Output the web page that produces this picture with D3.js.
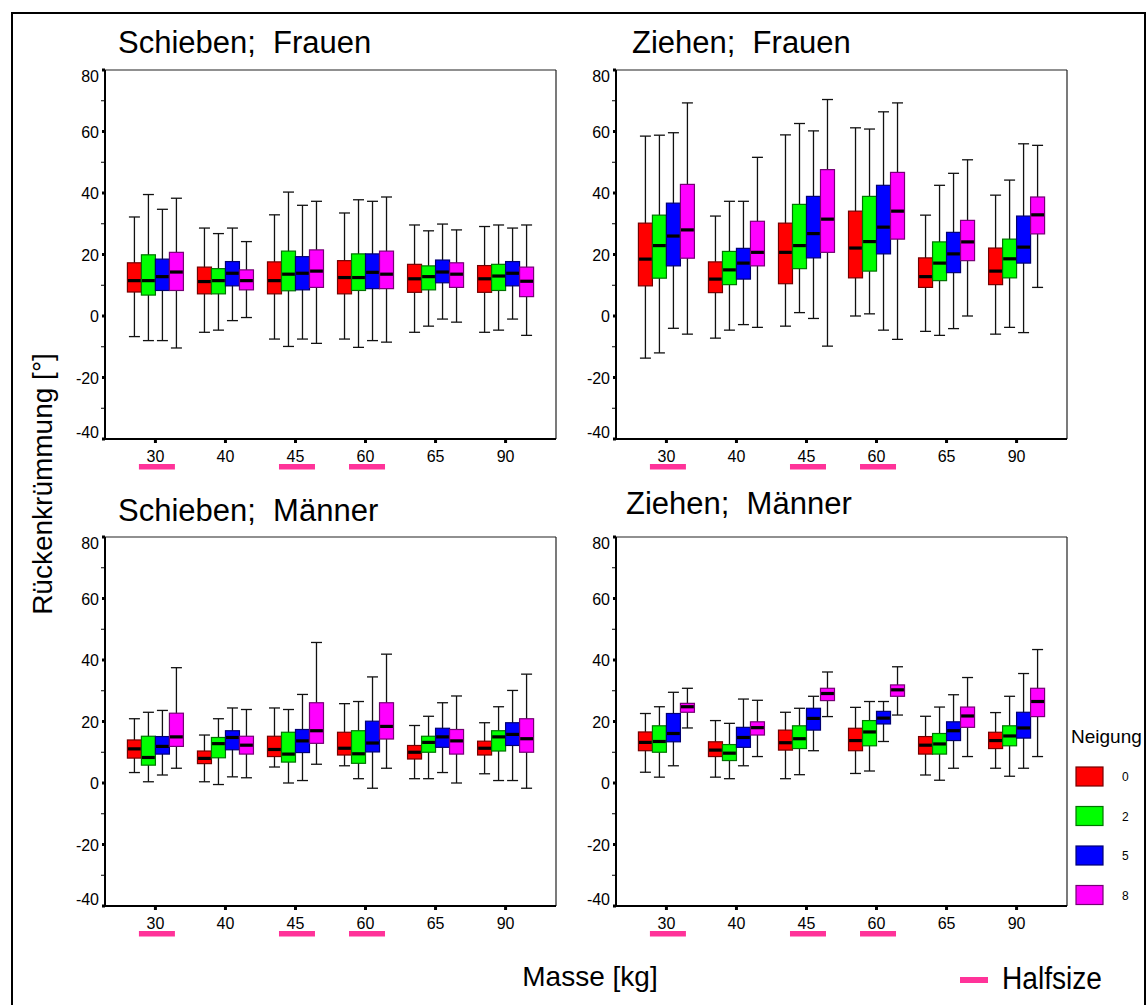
<!DOCTYPE html>
<html><head><meta charset="utf-8">
<script src="https://cdn.jsdelivr.net/npm/d3@7"></script>
<style>body{margin:0;background:#fff} svg{display:block;font-family:"Liberation Sans",Arial,sans-serif}</style>
</head><body>
<script>
const masses = ["30","40","45","60","65","90"];
const halfsize = ["30","45","60"];
const neigung = ["0","2","5","8"];
const colors = ["#ff0000","#00ff00","#0000ff","#ff00ff"];
const yTicks = [80,60,40,20,0,-20,-40];
const yMinor = [70,50,30,10,-10,-30];
// per mass, per Neigung: [min, q1, median, q3, max]
const schiebenFrauen = [
 [[-6.7,7.8,11.5,17.3,32.2],[-8,6.8,11.5,19.9,39.5],[-8,8.3,12.8,18.5,34.7],[-10.4,8.3,14.3,20.7,38.3]],
 [[-5.3,7.2,11.2,15.9,28.6],[-4.6,7.2,11.5,15.4,26.8],[-1.5,9.8,13.9,17.7,28.6],[-0.5,8.5,11.5,15,24.2]],
 [[-7.5,7.2,11.5,17.6,32.9],[-9.9,8.2,13.6,21.1,40.3],[-7.5,8.5,13.9,19.3,36],[-8.9,9.3,14.6,21.5,37.3]],
 [[-7.5,7.2,12.5,18,33.5],[-10.2,8.3,12.5,20.2,37.8],[-8,8.9,14.2,20.2,37.3],[-8.5,8.9,13.6,21.1,38.7]],
 [[-5.3,7.7,12.1,16.8,29.6],[-3.3,8.5,12.8,16.3,27.7],[-1,10.8,14.3,18.2,29.9],[-2,9.3,13.6,17.3,28]],
 [[-5.3,7.7,12.1,16.4,29.1],[-4.6,8.3,13,16.8,29.6],[-1,9.8,13.9,17.7,28.6],[-6.3,6.3,11.3,15.9,29.6]]
];
const ziehenFrauen = [
 [[-13.7,9.8,18.5,30.2,58.5],[-12,12.3,22.9,32.8,58.8],[-4,16.3,26,36.7,59.6],[-5.9,18.8,28,42.8,69.3]],
 [[-7.2,7.6,12,17.6,32.5],[-4.6,10.2,15,21,37.3],[-2.8,12,17.2,22,37.3],[-3.7,16.3,20.7,30.8,51.6]],
 [[-3.3,10.5,20.7,30.2,58.9],[1.1,15.4,22.9,36.3,62.6],[-0.8,18.9,26.8,38.9,60.2],[-9.8,20.7,31.5,47.6,70.4]],
 [[0,12.4,22.1,34.1,61.2],[0.7,14.6,24.2,38.9,60.8],[-4.6,20.2,28.9,42.5,66.4],[-7.6,25,34.1,46.7,69.3]],
 [[-5,9.3,12.8,18.9,32.8],[-6.3,11.5,17.2,24.1,42.5],[-4.1,14.1,20.2,27.2,46.4],[0,18,24.1,31.1,50.8]],
 [[-5.9,10.2,14.6,22.1,39.3],[-3.7,12.4,18.6,25,44.2],[-5.4,17.2,22.4,32.5,56],[9.3,26.7,32.9,38.7,55.5]]
];
const schiebenMaenner = [
 [[3.4,8.1,11.1,14,20.9],[0.4,5.8,8.3,15.2,23],[2.6,9.4,11.9,15.1,23.6],[4.8,11.9,15,22.7,37.5]],
 [[0.4,6.3,8,10.4,15.6],[-0.5,8.2,12.8,14.8,20.9],[2,10.8,14.8,17,24.4],[1.7,9.4,12.3,15.2,23.9]],
 [[5.2,8.6,10.9,15.2,24.4],[0,6.8,9.4,16.5,23.9],[0.8,9.9,13.7,17.4,28.8],[6.1,12.9,17,26.1,45.7]],
 [[5.6,9.1,11.3,16.5,25.8],[1.4,6.4,9.5,17,26.5],[-1.7,10.1,13,20.1,34.5],[4.8,14.3,18.4,26.1,41.9]],
 [[1.4,7.8,10,12.2,18.7],[1.4,10,13.2,15.2,21.7],[3.4,11.6,15,17.8,26.1],[0,9.4,13.7,17.4,28.3]],
 [[3,9.1,11.3,13.6,19.6],[0.8,10.4,15,17,24.8],[0.8,12.2,15.8,19.6,30.1],[-1.7,10,14.4,20.9,35.4]]
];
const ziehenMaenner = [
 [[3.5,10.5,13.2,16.6,22.6],[1.9,10,13.5,18.6,24.8],[5.6,13.4,16.1,22.6,29.5],[17.9,23,24.8,25.9,30.8]],
 [[1.9,8.6,10.7,13.4,20.3],[1.4,7.3,9.7,12.5,19.4],[5.6,11.6,14.8,18.1,27.3],[8.6,15.6,18,19.9,26.9]],
 [[1.4,10.7,13.1,17.2,23],[2.7,11.2,14.4,18.6,24.3],[10.5,17.2,21,24.3,28.2],[21.6,26.8,29.1,30.8,36.1]],
 [[3.1,10.5,13.8,17.8,24.6],[3.9,12.1,16.6,20.3,26.5],[13.5,19.2,21.1,23.3,26.5],[22.1,28.2,30.3,31.9,37.8]],
 [[2.6,9.4,12.3,15.1,21.7],[0.9,9.4,12.7,16.1,24.7],[4.8,13.8,17,19.9,28.7],[8.6,18.1,21.8,24.7,34.3]],
 [[4.8,11.2,13.8,16.5,22.9],[2.2,12.1,15.3,18.6,28.2],[4.8,14.6,17.9,23,35.6],[8.6,21.6,26.5,30.8,43.4]]
];
const titles = ["Schieben;\u00a0 Frauen","Ziehen;\u00a0 Frauen","Schieben;\u00a0 Männer","Ziehen;\u00a0 Männer"];
const yLabel = "Rückenkrümmung [°]";
const xLabel = "Masse [kg]";
const legendTitle = "Neigung";
const halfsizeLabel = "Halfsize";

const W = 1146, H = 1005;
const svg = d3.select("body").append("svg").attr("width", W).attr("height", H);
svg.append("rect").attr("x",12).attr("y",13).attr("width",1133).attr("height",1000)
  .attr("fill","none").attr("stroke","#000").attr("stroke-width",2);

const pw = 451, ph = 369;
const panels = [
  {data: schiebenFrauen, title: titles[0], x:105, y:70,  tx:13, ty:-17},
  {data: ziehenFrauen,   title: titles[1], x:616, y:70,  tx:16, ty:-17},
  {data: schiebenMaenner,title: titles[2], x:105, y:537, tx:13, ty:-16},
  {data: ziehenMaenner,  title: titles[3], x:616, y:537, tx:10, ty:-23}
];
const pink = "#ff3399";

panels.forEach(p => {
  const g = svg.append("g").attr("transform", `translate(${p.x},${p.y})`);
  const x = d3.scalePoint().domain(masses).range([0, pw]).padding(0.72);
  const y = d3.scaleLinear().domain([-40, 80]).range([ph, 0]);
  const sub = d3.scaleBand().domain(neigung).range([-28, 28]);
  const bw = sub.bandwidth();
  // frame
  g.append("line").attr("x1",0).attr("x2",pw).attr("y1",0).attr("y2",0).attr("stroke","#222").attr("stroke-width",1.2);
  g.append("line").attr("x1",pw).attr("x2",pw).attr("y1",0).attr("y2",ph).attr("stroke","#222").attr("stroke-width",1.2);
  // title
  g.append("text").attr("x",p.tx).attr("y",p.ty).attr("font-size",31).attr("fill","#000").text(p.title);
  // y ticks
  g.selectAll(".ymin").data(yMinor).join("line").attr("x1",-4).attr("x2",0)
    .attr("y1",d=>y(d)).attr("y2",d=>y(d)).attr("stroke","#000").attr("stroke-width",1);
  g.selectAll(".ymaj").data(yTicks).join("line").attr("x1",-3).attr("x2",0)
    .attr("y1",d=>y(d)).attr("y2",d=>y(d)).attr("stroke","#000").attr("stroke-width",3);
  g.selectAll(".ylab").data(yTicks).join("text").attr("x",-6)
    .attr("y",d=> d===80 ? y(d)+11.5 : d===-40 ? y(d)-1 : y(d)+6)
    .attr("text-anchor","end").attr("font-size",16).attr("fill","#000").text(d=>d);
  // x ticks
  g.selectAll(".xt").data(masses).join("line").attr("x1",d=>x(d)).attr("x2",d=>x(d))
    .attr("y1",ph).attr("y2",ph+4).attr("stroke","#000").attr("stroke-width",3);
  g.selectAll(".xl").data(masses).join("text").attr("x",d=>x(d)).attr("y",ph+23)
    .attr("text-anchor","middle").attr("font-size",16).attr("fill","#000").text(d=>d);
  g.selectAll(".hs").data(halfsize).join("rect").attr("x",d=>x(d)+1.5-18).attr("y",ph+25)
    .attr("width",36).attr("height",5.5).attr("fill",pink);
  // boxes
  masses.forEach((m, i) => {
    const grp = g.append("g").attr("transform", `translate(${x(m)},0)`);
    neigung.forEach((n, j) => {
      const [lo, q1, md, q3, hi] = p.data[i][j];
      const bx = sub(n), cx = bx + bw/2;
      grp.append("line").attr("x1",cx).attr("x2",cx).attr("y1",y(hi)).attr("y2",y(lo))
        .attr("stroke","#111").attr("stroke-width",1.3);
      [lo, hi].forEach(v => grp.append("line").attr("x1",cx-5.5).attr("x2",cx+5.5)
        .attr("y1",y(v)).attr("y2",y(v)).attr("stroke","#111").attr("stroke-width",1.3));
      grp.append("rect").attr("x",bx).attr("y",y(q3)).attr("width",bw).attr("height",y(q1)-y(q3))
        .attr("fill",colors[j]).attr("stroke",d3.color(colors[j]).darker(2.2)).attr("stroke-width",1.2);
      grp.append("line").attr("x1",bx+0.6).attr("x2",bx+bw-0.6).attr("y1",y(md)).attr("y2",y(md))
        .attr("stroke","#000").attr("stroke-width",3.2);
    });
  });
  // axes
  g.append("line").attr("x1",0).attr("x2",0).attr("y1",0).attr("y2",ph).attr("stroke","#000").attr("stroke-width",2);
  g.append("line").attr("x1",0).attr("x2",pw).attr("y1",ph).attr("y2",ph).attr("stroke","#000").attr("stroke-width",2);
});

// axis titles
svg.append("text").attr("transform","translate(52,484) rotate(-90)").attr("text-anchor","middle")
  .attr("font-size",28).attr("fill","#000").text(yLabel);
svg.append("text").attr("x",590).attr("y",986).attr("text-anchor","middle")
  .attr("font-size",28).attr("fill","#000").text(xLabel);

// legend
svg.append("text").attr("x",1071).attr("y",743).attr("font-size",19).attr("fill","#000").text(legendTitle);
const leg = svg.append("g");
neigung.forEach((n, j) => {
  const yy = 767 + j*39.5;
  leg.append("rect").attr("x",1076).attr("y",yy).attr("width",27).attr("height",19)
    .attr("fill",colors[j]).attr("stroke",d3.color(colors[j]).darker(2.2)).attr("stroke-width",1.2);
  leg.append("text").attr("x",1122).attr("y",yy+14).attr("font-size",12).attr("fill","#000").text(n);
});
svg.append("rect").attr("x",960).attr("y",977).attr("width",28).attr("height",6).attr("fill",pink);
svg.append("text").attr("x",1002).attr("y",989).attr("font-size",31).attr("fill","#000")
  .attr("textLength",100).attr("lengthAdjust","spacingAndGlyphs").text(halfsizeLabel);
</script>
</body></html>
